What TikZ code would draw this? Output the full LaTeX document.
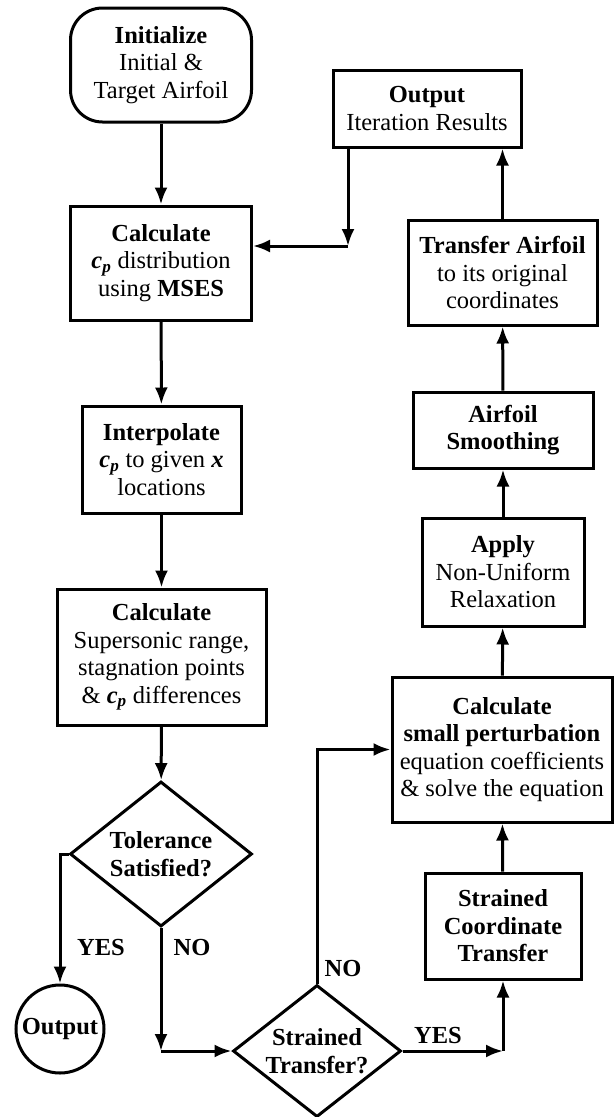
\documentclass[tikz,border=0pt]{standalone}
\usepackage{fontspec}
\setmainfont{Liberation Serif}
\usetikzlibrary{shapes.geometric,arrows.meta,positioning}

\newcommand{\cpvar}{{\bfseries\itshape c}\textsubscript{\bfseries\itshape p}}

\begin{document}
\begin{tikzpicture}[
    x=1pt, y=-1pt,
    font=\fontsize{24.5}{27.5}\selectfont,
    box/.style={rectangle, draw, line width=3pt, align=center, inner sep=0pt},
    startbox/.style={box, rounded corners=32pt},
    decision/.style={diamond, draw, line width=3pt, align=center, inner sep=0pt, shape aspect=1.25},
    endnode/.style={circle, draw, line width=3pt, inner sep=0pt, minimum size=88pt, font=\fontsize{24.5}{27.5}\selectfont\bfseries},
    arrow/.style={-{Latex[length=17pt,width=13pt]}, line width=3pt},
    branch/.style={font=\fontsize{24.5}{27.5}\selectfont\bfseries}
]
    \useasboundingbox (0,0) rectangle (615,1117);

    % left column
    \node[startbox, minimum width=181pt, minimum height=114pt] (init) at (161,65) {\textbf{Initialize}\\Initial \&\\Target Airfoil};
    \node[box, minimum width=181pt, minimum height=114pt] (calccp) at (161,263) {\textbf{Calculate}\\\cpvar{} distribution\\using \textbf{MSES}};
    \node[box, minimum width=159pt, minimum height=107pt] (interp) at (161.5,459.5) {\textbf{Interpolate}\\\cpvar{} to given \textbf{\itshape x}\\locations};
    \node[box, minimum width=209pt, minimum height=136pt] (calcrange) at (161.5,657) {\textbf{Calculate}\\Supersonic range,\\stagnation points\\\& \cpvar{} differences};
    \node[decision, minimum width=182pt, minimum height=145pt] (tol) at (161,854) {\textbf{Tolerance}\\\textbf{Satisfied?}};
    \node[endnode] (final) at (60,1029) {Output};

    % right column
    \node[box, minimum width=188pt, minimum height=77pt] (iterout) at (427,108.5) {\textbf{Output}\\Iteration Results};
    \node[box, minimum width=189pt, minimum height=105pt] (transfer) at (502.5,272.5) {\textbf{Transfer Airfoil}\\to its original\\coordinates};
    \node[box, minimum width=180pt, minimum height=76pt] (smooth) at (503,430) {\textbf{Airfoil}\\\textbf{Smoothing}};
    \node[box, minimum width=162pt, minimum height=108pt] (relax) at (503,572) {\textbf{Apply}\\Non-Uniform\\Relaxation};
    \node[box, minimum width=220pt, minimum height=145pt] (calcspe) at (502,749.5) {\textbf{Calculate}\\\textbf{small perturbation}\\equation coefficients\\\& solve the equation};
    \node[box, minimum width=156pt, minimum height=106pt] (strcoord) at (503,926) {\textbf{Strained}\\\textbf{Coordinate}\\\textbf{Transfer}};
    \node[decision, minimum width=168pt, minimum height=132pt] (strq) at (317,1051) {\textbf{Strained}\\\textbf{Transfer?}};

    % junctions
    \coordinate (jfeed) at (348,246);
    \coordinate (jno) at (161,1051);
    \coordinate (jyes) at (503,1051);

    \draw[arrow] (init) -- (calccp);
    \draw[arrow] (calccp) -- (interp);
    \draw[arrow] (interp) -- (calcrange);
    \draw[arrow] (calcrange) -- (tol);
    \draw[arrow] (tol.west) -| (final.north);
    \draw[arrow] (tol.south) -- (jno);
    \draw[arrow] (jno) -- (strq.west);
    \draw[arrow] (strq.north) |- (calcspe.west);
    \draw[arrow] (strq.east) -- (jyes);
    \draw[arrow] (jyes) -- (strcoord.south);
    \draw[arrow] (strcoord) -- (calcspe);
    \draw[arrow] (calcspe) -- (relax);
    \draw[arrow] (relax) -- (smooth);
    \draw[arrow] (smooth) -- (transfer);
    \draw[arrow] (transfer.north) -- (transfer.north |- iterout.south);
    \draw[arrow] (iterout.south -| jfeed) -- (jfeed);
    \draw[arrow] (jfeed) -- (jfeed -| calccp.east);

    % branch labels
    \node[branch] (yesa) at (101,947) {YES};
    \node[branch] (noa) at (192,947) {NO};
    \node[branch] (nob) at (343,968) {NO};
    \node[branch] (yesb) at (438,1035) {YES};
\end{tikzpicture}
\end{document}
